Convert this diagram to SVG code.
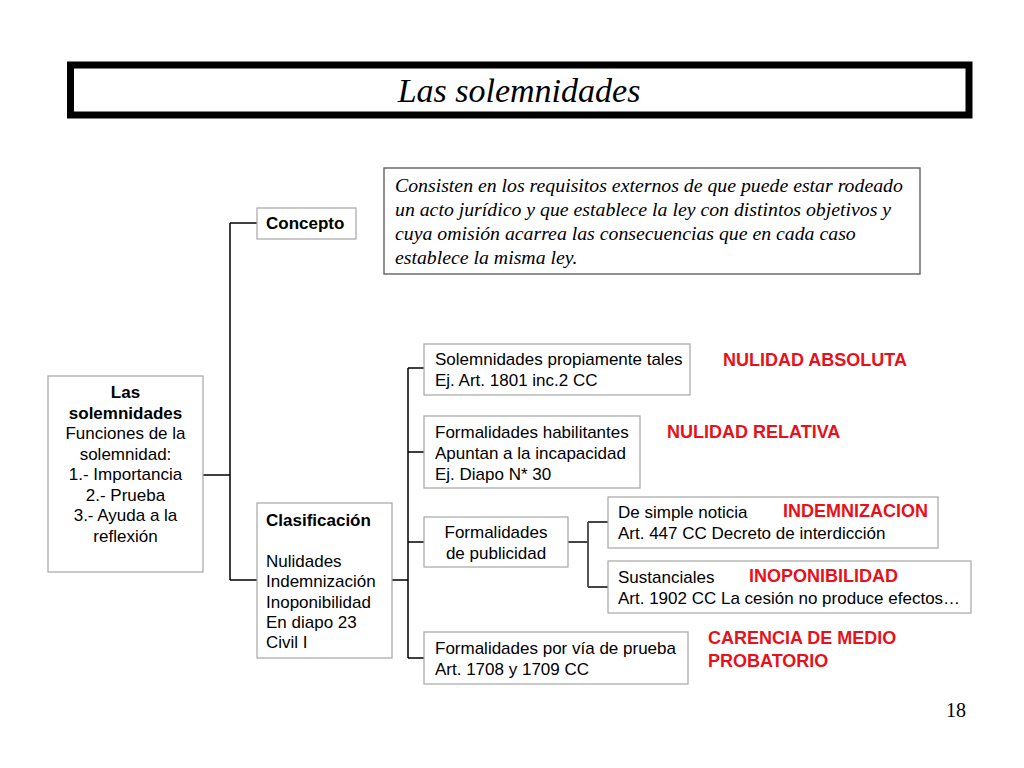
<svg xmlns="http://www.w3.org/2000/svg" width="1024" height="768" viewBox="0 0 1024 768">
<style>
.box{fill:#fff;stroke:#a6a6a6;stroke-width:1.2}
.t{font-family:"Liberation Sans",Arial,sans-serif;font-size:17px;fill:#000}
.b{font-weight:bold}
.r{font-family:"Liberation Sans",Arial,sans-serif;font-size:18px;font-weight:bold;fill:#e8101a}
.c{fill:none;stroke:#000;stroke-width:1.5}
.c2{fill:none;stroke:#444;stroke-width:1.8}
.s{font-family:"Liberation Serif","Times New Roman",serif;fill:#000}
</style>
<rect width="1024" height="768" fill="#fff"/>
<g id="title">
<rect x="70.5" y="65" width="898.5" height="50" fill="#fff" stroke="#000" stroke-width="7"/>
<text class="s" x="519" y="102" font-size="34" font-style="italic" text-anchor="middle">Las solemnidades</text>
</g>
<g id="connectors">
<path class="c" d="M203 475H230M230 223V580M230 223H257M230 580H257"/>
<path class="c" d="M392 580H408M408 368V658M408 368H424M408 452H424M408 542H424M408 658H424"/>
<path class="c2" d="M568 542H588M588 522V587M588 522H608M588 587H608"/>
</g>
<g id="root">
<rect class="box" x="48" y="376" width="155" height="196"/>
<text class="t" text-anchor="middle" x="125.5"><tspan class="b" x="125.5" y="398">Las</tspan><tspan class="b" x="125.5" y="418.5">solemnidades</tspan><tspan x="125.5" y="439">Funciones de la</tspan><tspan x="125.5" y="459.5">solemnidad:</tspan><tspan x="125.5" y="480">1.- Importancia</tspan><tspan x="125.5" y="500.5">2.- Prueba</tspan><tspan x="125.5" y="521">3.- Ayuda a la</tspan><tspan x="125.5" y="541.5">reflexión</tspan></text>
</g>
<g id="concepto">
<rect class="box" x="257" y="208" width="99" height="31"/>
<text class="t b" x="266" y="229">Concepto</text>
</g>
<g id="definicion">
<rect x="384" y="168" width="536" height="106" fill="#fff" stroke="#555" stroke-width="1.3"/>
<text class="s" font-size="19.8" font-style="italic"><tspan x="395" y="192">Consisten en los requisitos externos de que puede estar rodeado</tspan><tspan x="395" y="216">un acto jurídico y que establece la ley con distintos objetivos y</tspan><tspan x="395" y="240">cuya omisión acarrea las consecuencias que en cada caso</tspan><tspan x="395" y="264">establece la misma ley.</tspan></text>
</g>
<g id="clasificacion">
<rect class="box" x="257" y="503" width="135" height="155"/>
<text class="t"><tspan class="b" x="266" y="526">Clasificación</tspan><tspan x="266" y="567">Nulidades</tspan><tspan x="266" y="587">Indemnización</tspan><tspan x="266" y="607.5">Inoponibilidad</tspan><tspan x="266" y="627.5">En diapo 23</tspan><tspan x="266" y="648">Civil I</tspan></text>
</g>
<g id="solemnidades">
<rect class="box" x="424" y="344" width="266" height="51"/>
<text class="t"><tspan x="435" y="365">Solemnidades propiamente tales</tspan><tspan x="435" y="386">Ej. Art. 1801 inc.2 CC</tspan></text>
</g>
<g id="habilitantes">
<rect class="box" x="424" y="416" width="216" height="72"/>
<text class="t"><tspan x="435" y="438">Formalidades habilitantes</tspan><tspan x="435" y="459">Apuntan a la incapacidad</tspan><tspan x="435" y="480">Ej. Diapo N* 30</tspan></text>
</g>
<g id="publicidad">
<rect class="box" x="424" y="517" width="144" height="50"/>
<text class="t" text-anchor="middle"><tspan x="496" y="538">Formalidades</tspan><tspan x="496" y="559">de publicidad</tspan></text>
</g>
<g id="simple">
<rect class="box" x="608" y="497" width="330" height="51"/>
<text class="t"><tspan x="618" y="518">De simple noticia</tspan><tspan x="618" y="539">Art. 447 CC Decreto de interdicción</tspan></text>
<text class="r" x="783" y="517">INDEMNIZACION</text>
</g>
<g id="sustanciales">
<rect class="box" x="608" y="561" width="363" height="52"/>
<text class="t"><tspan x="618" y="583">Sustanciales</tspan><tspan x="618" y="604">Art. 1902 CC La cesión no produce efectos…</tspan></text>
<text class="r" x="749" y="582">INOPONIBILIDAD</text>
</g>
<g id="prueba">
<rect class="box" x="424" y="632" width="264" height="52"/>
<text class="t"><tspan x="435" y="654">Formalidades por vía de prueba</tspan><tspan x="435" y="675">Art. 1708 y 1709 CC</tspan></text>
</g>
<g id="labels">
<text class="r" x="723" y="366">NULIDAD ABSOLUTA</text>
<text class="r" x="667" y="438">NULIDAD RELATIVA</text>
<text class="r"><tspan x="708" y="644">CARENCIA DE MEDIO</tspan><tspan x="708" y="667">PROBATORIO</tspan></text>
</g>
<text class="s" x="966" y="717" font-size="20" text-anchor="end">18</text>
</svg>
